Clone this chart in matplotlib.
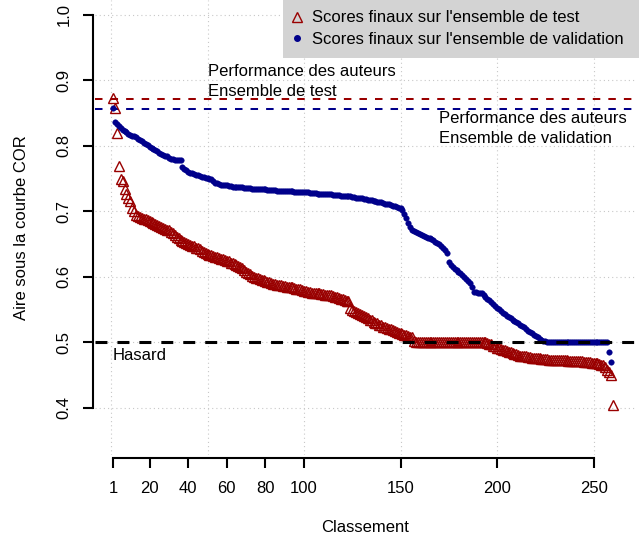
import numpy as np
import matplotlib
matplotlib.use("Agg")
import matplotlib.pyplot as plt
from matplotlib.patches import Rectangle
from matplotlib.lines import Line2D

plt.rcParams['font.family'] = ['Liberation Sans', 'DejaVu Sans']
plt.rcParams['lines.scale_dashes'] = False

# AUC finale par modele, triee (ensemble de test)
test_auc = [
    0.873, 0.858, 0.820, 0.769, 0.750, 0.747, 0.735, 0.727, 0.720, 0.716,
    0.705, 0.700, 0.695, 0.693, 0.691, 0.690, 0.689, 0.688, 0.687, 0.686,
    0.684, 0.682, 0.681, 0.680, 0.678, 0.677, 0.675, 0.674, 0.672, 0.671,
    0.669, 0.667, 0.664, 0.661, 0.659, 0.657, 0.655, 0.653, 0.652, 0.651,
    0.649, 0.648, 0.647, 0.645, 0.644, 0.642, 0.640, 0.638, 0.637, 0.635,
    0.634, 0.633, 0.632, 0.631, 0.630, 0.629, 0.628, 0.627, 0.626, 0.625,
    0.624, 0.622, 0.621, 0.620, 0.619, 0.617, 0.616, 0.614, 0.611, 0.608,
    0.606, 0.604, 0.602, 0.600, 0.599, 0.598, 0.597, 0.596, 0.595, 0.594,
    0.593, 0.592, 0.591, 0.590, 0.589, 0.588, 0.587, 0.587, 0.586, 0.586,
    0.585, 0.585, 0.584, 0.584, 0.583, 0.582, 0.582, 0.581, 0.580, 0.579,
    0.578, 0.577, 0.577, 0.576, 0.576, 0.576, 0.575, 0.575, 0.574, 0.574,
    0.573, 0.573, 0.572, 0.572, 0.571, 0.570, 0.569, 0.568, 0.567, 0.566,
    0.565, 0.564, 0.563, 0.553, 0.550, 0.548, 0.547, 0.545, 0.543, 0.542,
    0.540, 0.539, 0.537, 0.535, 0.534, 0.532, 0.530, 0.529, 0.527, 0.526,
    0.524, 0.523, 0.522, 0.521, 0.520, 0.519, 0.517, 0.516, 0.515, 0.514,
    0.513, 0.512, 0.511, 0.510, 0.509, 0.508, 0.502, 0.501, 0.500, 0.500,
    0.500, 0.500, 0.500, 0.500, 0.500, 0.500, 0.500, 0.500, 0.500, 0.500,
    0.500, 0.500, 0.500, 0.500, 0.500, 0.500, 0.500, 0.500, 0.500, 0.500,
    0.500, 0.500, 0.500, 0.500, 0.500, 0.500, 0.500, 0.500, 0.500, 0.500,
    0.500, 0.500, 0.500, 0.500, 0.499, 0.498, 0.497, 0.495, 0.494, 0.492,
    0.491, 0.490, 0.489, 0.488, 0.487, 0.486, 0.485, 0.484, 0.483, 0.482,
    0.481, 0.480, 0.480, 0.479, 0.479, 0.478, 0.478, 0.477, 0.477, 0.476,
    0.476, 0.476, 0.475, 0.475, 0.475, 0.475, 0.474, 0.474, 0.474, 0.474,
    0.474, 0.473, 0.473, 0.473, 0.473, 0.473, 0.472, 0.472, 0.472, 0.472,
    0.471, 0.471, 0.471, 0.471, 0.470, 0.470, 0.470, 0.470, 0.469, 0.469,
    0.469, 0.468, 0.467, 0.466, 0.465, 0.463, 0.458, 0.455, 0.450, 0.405,
]

# AUC finale par modele, triee (ensemble de validation)
valid_auc = [
    0.858, 0.837, 0.833, 0.830, 0.827, 0.825, 0.823, 0.821, 0.819, 0.817,
    0.816, 0.815, 0.813, 0.811, 0.809, 0.807, 0.805, 0.803, 0.801, 0.799,
    0.797, 0.796, 0.794, 0.792, 0.790, 0.788, 0.787, 0.785, 0.784, 0.782,
    0.780, 0.780, 0.779, 0.779, 0.779, 0.779, 0.768, 0.765, 0.763, 0.761,
    0.759, 0.758, 0.757, 0.756, 0.755, 0.754, 0.753, 0.752, 0.751, 0.751,
    0.750, 0.750, 0.746, 0.744, 0.743, 0.742, 0.741, 0.741, 0.740, 0.740,
    0.739, 0.739, 0.738, 0.738, 0.738, 0.737, 0.737, 0.737, 0.736, 0.736,
    0.736, 0.736, 0.735, 0.735, 0.735, 0.735, 0.734, 0.734, 0.734, 0.734,
    0.733, 0.733, 0.733, 0.733, 0.733, 0.732, 0.732, 0.732, 0.732, 0.732,
    0.731, 0.731, 0.731, 0.731, 0.730, 0.730, 0.730, 0.730, 0.729, 0.729,
    0.729, 0.729, 0.728, 0.728, 0.728, 0.728, 0.727, 0.727, 0.727, 0.727,
    0.726, 0.726, 0.726, 0.726, 0.725, 0.725, 0.725, 0.725, 0.724, 0.724,
    0.724, 0.723, 0.723, 0.723, 0.722, 0.722, 0.721, 0.721, 0.720, 0.720,
    0.719, 0.719, 0.718, 0.718, 0.717, 0.716, 0.716, 0.715, 0.714, 0.714,
    0.713, 0.712, 0.712, 0.711, 0.710, 0.709, 0.708, 0.707, 0.706, 0.705,
    0.702, 0.696, 0.690, 0.682, 0.676, 0.672, 0.670, 0.669, 0.667, 0.665,
    0.664, 0.662, 0.661, 0.660, 0.659, 0.658, 0.656, 0.654, 0.652, 0.650,
    0.647, 0.644, 0.641, 0.637, 0.623, 0.619, 0.615, 0.612, 0.610, 0.608,
    0.606, 0.603, 0.600, 0.597, 0.594, 0.591, 0.584, 0.577, 0.577, 0.576,
    0.576, 0.575, 0.573, 0.570, 0.567, 0.565, 0.562, 0.559, 0.556, 0.553,
    0.551, 0.548, 0.545, 0.543, 0.541, 0.539, 0.537, 0.535, 0.533, 0.531,
    0.529, 0.527, 0.525, 0.523, 0.520, 0.518, 0.516, 0.514, 0.512, 0.510,
    0.508, 0.506, 0.504, 0.503, 0.502, 0.500, 0.500, 0.500, 0.500, 0.500,
    0.500, 0.500, 0.500, 0.500, 0.500, 0.500, 0.500, 0.500, 0.500, 0.500,
    0.500, 0.500, 0.500, 0.500, 0.500, 0.500, 0.500, 0.500, 0.500, 0.500,
    0.500, 0.500, 0.500, 0.500, 0.500, 0.500, 0.500, 0.486, 0.470,
]

auteurs_test = 0.872
auteurs_valid = 0.857
hasard = 0.5

x_ticks = [1, 20, 40, 60, 80, 100, 150, 200, 250]
y_ticks = [0.4, 0.5, 0.6, 0.7, 0.8, 0.9, 1.0]
grid_x = [0, 50, 100, 150, 200, 250]

RED = '#990000'
BLUE = '#00008b'

W, H = 639, 544
fig = plt.figure(figsize=(W / 100, H / 100), dpi=100)

def px(x, y):
    # pixel (from top-left) -> figure fraction
    return x / W, 1 - y / H

ax_l, ax_r, ax_t, ax_b = 95, 637, 0, 455
ax = fig.add_axes([ax_l / W, 1 - ax_b / H, (ax_r - ax_l) / W, (ax_b - ax_t) / H])
ax.set_xlim(-8.3, 272.5)
ax.set_ylim(0.3282, 1.0229)

# grille pointillee
for gx in grid_x:
    ax.axvline(gx, color='#c8c8c8', lw=0.8, linestyle=(0, (0.8, 2.2)), zorder=0)
for gy in y_ticks:
    ax.axhline(gy, color='#c8c8c8', lw=0.8, linestyle=(0, (0.8, 2.2)), zorder=0)

test_rank = np.arange(1, len(test_auc) + 1)
valid_rank = np.arange(1, len(valid_auc) + 1)
ax.plot(test_rank, test_auc, linestyle='none', marker='^', ms=7,
        mfc='none', mec=RED, mew=1.0, zorder=3)
ax.plot(valid_rank, valid_auc, linestyle='none', marker='o', ms=4.0,
        mfc=BLUE, mec=BLUE, mew=0.3, zorder=4)

ax.axhline(auteurs_test, color=RED, lw=1.45, linestyle=(0, (5.4, 5.8)), zorder=2)
ax.axhline(auteurs_valid, color=BLUE, lw=1.45, linestyle=(0, (5.4, 5.8)), zorder=2)
ax.axhline(hasard, color='black', lw=2.2, linestyle=(0, (8.6, 7.2)), zorder=5)

fs = 12
ax.text(50, 0.899, "Performance des auteurs\nEnsemble de test", ha='left',
        va='center', fontsize=fs, linespacing=1.42)
ax.text(170, 0.8265, "Performance des auteurs\nEnsemble de validation", ha='left',
        va='center', fontsize=fs, linespacing=1.42)
ax.text(1, 0.4800, "Hasard", ha='left', va='center', fontsize=fs)

# axes facon R
for s in ['top', 'right']:
    ax.spines[s].set_visible(False)
ax.spines['left'].set_position(('outward', 1.5))
ax.spines['bottom'].set_position(('outward', 2.2))
ax.spines['left'].set_bounds(0.4, 1.0)
ax.spines['bottom'].set_bounds(1, 250)
ax.spines['left'].set_linewidth(1.5)
ax.spines['bottom'].set_linewidth(1.5)
ax.set_xticks(x_ticks)
ax.set_xticklabels([str(t) for t in x_ticks])
ax.set_yticks(y_ticks)
ax.set_yticklabels(['%.1f' % t for t in y_ticks], rotation=90, va='center')
ax.tick_params(axis='both', length=7.2, width=1.5, labelsize=fs, color='black')
ax.tick_params(axis='x', pad=9.5)
ax.tick_params(axis='y', pad=8)
ax.set_facecolor('white')

fig.text(*px(365, 528), "Classement", ha='center', va='center', fontsize=fs)
fig.text(*px(22, 228), "Aire sous la courbe COR", ha='center', va='center',
         rotation=90, fontsize=fs)

# legende (boite grise en haut a droite)
x0, y0 = px(283, 58)
x1, y1 = px(640, 0)
fig.patches.append(Rectangle((x0, y0), x1 - x0, y1 - y0, transform=fig.transFigure,
                             facecolor='#d3d3d3', edgecolor='none', zorder=6))
fig.add_artist(Line2D([px(297, 17)[0]], [px(297, 17)[1]], marker='^', ms=7,
                      mfc='none', mec=RED, mew=1.0, linestyle='none', zorder=7))
fig.add_artist(Line2D([px(297, 38)[0]], [px(297, 38)[1]], marker='o', ms=4.0,
                      mfc=BLUE, mec=BLUE, linestyle='none', zorder=7))
fig.text(*px(312, 18), "Scores finaux sur l'ensemble de test", ha='left',
         va='center', fontsize=fs, zorder=7)
fig.text(*px(312, 39), "Scores finaux sur l'ensemble de validation", ha='left',
         va='center', fontsize=fs, zorder=7)

fig.savefig("out.png", dpi=100)
